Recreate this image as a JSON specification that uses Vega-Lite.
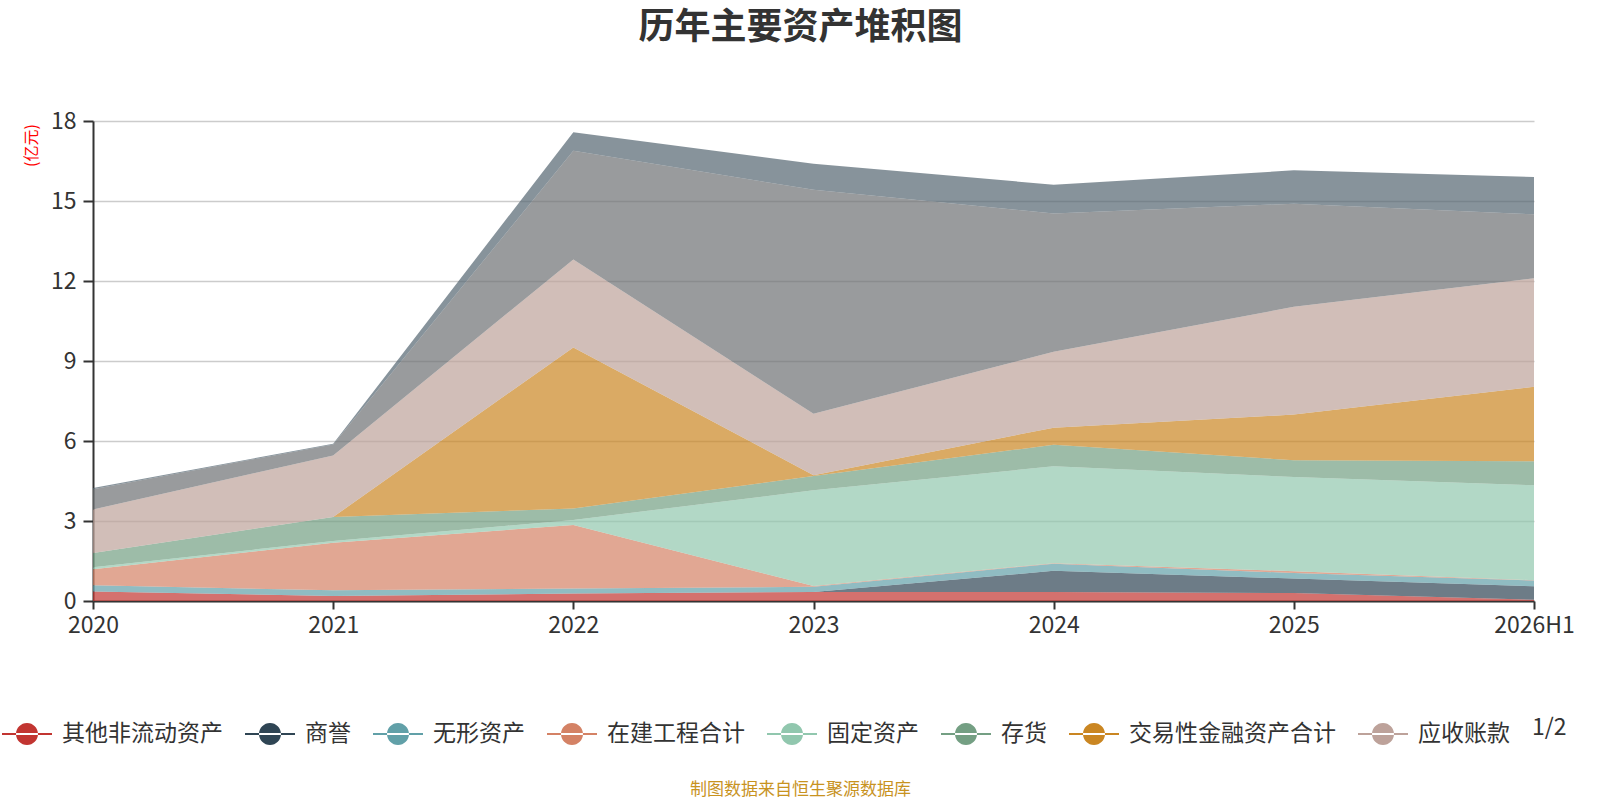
{
  "$schema": "https://vega.github.io/schema/vega-lite/v6.json",
  "autosize": {"type": "none"},
  "padding": {"left": 93, "top": 121, "right": 66, "bottom": 199},
  "width": 1441,
  "height": 480,
  "background": "#ffffff",
  "config": {
    "font": "Noto Sans CJK SC",
    "view": {"stroke": null}
  },
  "title": {
    "text": "历年主要资产堆积图",
    "anchor": "middle",
    "fontSize": 36,
    "fontWeight": "bold",
    "color": "#333333",
    "dx": -13,
    "offset": 63
  },
  "data": {
    "values": [
      {"year": "2020", "name": "其他非流动资产", "value": 0.36},
      {"year": "2020", "name": "商誉", "value": 0},
      {"year": "2020", "name": "无形资产", "value": 0.23},
      {"year": "2020", "name": "在建工程合计", "value": 0.60},
      {"year": "2020", "name": "固定资产", "value": 0.08},
      {"year": "2020", "name": "存货", "value": 0.53},
      {"year": "2020", "name": "交易性金融资产合计", "value": 0},
      {"year": "2020", "name": "应收账款", "value": 1.63},
      {"year": "2020", "name": "货币资金", "value": 0.76},
      {"year": "2020", "name": "其他流动资产", "value": 0.05},

      {"year": "2021", "name": "其他非流动资产", "value": 0.19},
      {"year": "2021", "name": "商誉", "value": 0},
      {"year": "2021", "name": "无形资产", "value": 0.21},
      {"year": "2021", "name": "在建工程合计", "value": 1.78},
      {"year": "2021", "name": "固定资产", "value": 0.07},
      {"year": "2021", "name": "存货", "value": 0.90},
      {"year": "2021", "name": "交易性金融资产合计", "value": 0},
      {"year": "2021", "name": "应收账款", "value": 2.31},
      {"year": "2021", "name": "货币资金", "value": 0.41},
      {"year": "2021", "name": "其他流动资产", "value": 0.03},

      {"year": "2022", "name": "其他非流动资产", "value": 0.28},
      {"year": "2022", "name": "商誉", "value": 0},
      {"year": "2022", "name": "无形资产", "value": 0.19},
      {"year": "2022", "name": "在建工程合计", "value": 2.38},
      {"year": "2022", "name": "固定资产", "value": 0.19},
      {"year": "2022", "name": "存货", "value": 0.43},
      {"year": "2022", "name": "交易性金融资产合计", "value": 6.04},
      {"year": "2022", "name": "应收账款", "value": 3.30},
      {"year": "2022", "name": "货币资金", "value": 4.07},
      {"year": "2022", "name": "其他流动资产", "value": 0.70},

      {"year": "2023", "name": "其他非流动资产", "value": 0.34},
      {"year": "2023", "name": "商誉", "value": 0},
      {"year": "2023", "name": "无形资产", "value": 0.19},
      {"year": "2023", "name": "在建工程合计", "value": 0.03},
      {"year": "2023", "name": "固定资产", "value": 3.59},
      {"year": "2023", "name": "存货", "value": 0.54},
      {"year": "2023", "name": "交易性金融资产合计", "value": 0.03},
      {"year": "2023", "name": "应收账款", "value": 2.30},
      {"year": "2023", "name": "货币资金", "value": 8.40},
      {"year": "2023", "name": "其他流动资产", "value": 0.98},

      {"year": "2024", "name": "其他非流动资产", "value": 0.34},
      {"year": "2024", "name": "商誉", "value": 0.79},
      {"year": "2024", "name": "无形资产", "value": 0.27},
      {"year": "2024", "name": "在建工程合计", "value": 0.02},
      {"year": "2024", "name": "固定资产", "value": 3.63},
      {"year": "2024", "name": "存货", "value": 0.81},
      {"year": "2024", "name": "交易性金融资产合计", "value": 0.64},
      {"year": "2024", "name": "应收账款", "value": 2.85},
      {"year": "2024", "name": "货币资金", "value": 5.18},
      {"year": "2024", "name": "其他流动资产", "value": 1.08},

      {"year": "2025", "name": "其他非流动资产", "value": 0.30},
      {"year": "2025", "name": "商誉", "value": 0.54},
      {"year": "2025", "name": "无形资产", "value": 0.21},
      {"year": "2025", "name": "在建工程合计", "value": 0.07},
      {"year": "2025", "name": "固定资产", "value": 3.53},
      {"year": "2025", "name": "存货", "value": 0.63},
      {"year": "2025", "name": "交易性金融资产合计", "value": 1.71},
      {"year": "2025", "name": "应收账款", "value": 4.04},
      {"year": "2025", "name": "货币资金", "value": 3.87},
      {"year": "2025", "name": "其他流动资产", "value": 1.25},

      {"year": "2026H1", "name": "其他非流动资产", "value": 0.05},
      {"year": "2026H1", "name": "商誉", "value": 0.50},
      {"year": "2026H1", "name": "无形资产", "value": 0.22},
      {"year": "2026H1", "name": "在建工程合计", "value": 0.01},
      {"year": "2026H1", "name": "固定资产", "value": 3.56},
      {"year": "2026H1", "name": "存货", "value": 0.90},
      {"year": "2026H1", "name": "交易性金融资产合计", "value": 2.79},
      {"year": "2026H1", "name": "应收账款", "value": 4.07},
      {"year": "2026H1", "name": "货币资金", "value": 2.40},
      {"year": "2026H1", "name": "其他流动资产", "value": 1.40}
    ]
  },
  "transform": [
    {"calculate": "indexof(['其他非流动资产','商誉','无形资产','在建工程合计','固定资产','存货','交易性金融资产合计','应收账款','货币资金','其他流动资产'], datum.name)", "as": "k"}
  ],
  "mark": {"type": "area", "opacity": 0.7, "interpolate": "linear"},
  "encoding": {
    "x": {
      "field": "year",
      "type": "ordinal",
      "scale": {"type": "point", "padding": 0},
      "axis": {
        "title": "制图数据来自恒生聚源数据库",
        "titleColor": "#c8931f",
        "titleFontSize": 17,
        "titleFontWeight": "normal",
        "titleX": 707,
        "titleY": 188,
        "titleAlign": "center",
        "titleBaseline": "middle",
        "labelAngle": 0,
        "labelFontSize": 23,
        "labelColor": "#333333",
        "labelPadding": 5,
        "labelFlush": false,
        "domainColor": "#333333",
        "domainWidth": 2,
        "tickColor": "#333333",
        "tickWidth": 2,
        "tickSize": 8,
        "grid": false
      }
    },
    "y": {
      "field": "value",
      "type": "quantitative",
      "stack": "zero",
      "scale": {"domain": [0, 18], "nice": false},
      "axis": {
        "values": [0, 3, 6, 9, 12, 15, 18],
        "title": "(亿元)",
        "titleColor": "#ff0000",
        "titleFontSize": 16,
        "titleFontWeight": "normal",
        "titleX": -62,
        "titleY": 24,
        "titleAlign": "center",
        "titleBaseline": "middle",
        "labelFontSize": 23,
        "labelColor": "#333333",
        "labelPadding": 7,
        "domainColor": "#333333",
        "domainWidth": 2,
        "tickColor": "#333333",
        "tickWidth": 2,
        "tickSize": 10,
        "gridColor": "#cccccc",
        "gridWidth": 1.5
      }
    },
    "color": {
      "field": "name",
      "type": "nominal",
      "scale": {
        "domain": ["其他非流动资产", "商誉", "无形资产", "在建工程合计", "固定资产", "存货", "交易性金融资产合计", "应收账款", "货币资金", "其他流动资产"],
        "range": ["#c23531", "#2f4554", "#61a0a8", "#d48265", "#91c7ae", "#749f83", "#ca8622", "#bda29a", "#6e7074", "#546570"]
      },
      "legend": {
        "values": ["其他非流动资产", "商誉", "无形资产", "在建工程合计", "固定资产", "存货", "交易性金融资产合计", "应收账款"],
        "orient": "none",
        "direction": "horizontal",
        "columns": 8,
        "legendX": -91,
        "legendY": 588,
        "title": "1/2",
        "titleOrient": "right",
        "titleFontSize": 23,
        "titleFontWeight": "normal",
        "titleColor": "#333333",
        "titlePadding": 22,
        "titleBaseline": "middle",
        "symbolType": "M-1,-0.04L1,-0.04L1,0.04L-1,0.04Z M-0.44,0A0.44,0.44 0 1,0 0.44,0A0.44,0.44 0 1,0 -0.44,0Z",
        "symbolSize": 2500,
        "symbolOpacity": 1,
        "symbolStrokeWidth": 0,
        "labelFontSize": 23,
        "labelLimit": 1000,
        "labelColor": "#333333",
        "labelOffset": 10,
        "columnPadding": 22
      }
    },
    "order": {"field": "k", "type": "quantitative", "sort": "ascending"}
  }
}
